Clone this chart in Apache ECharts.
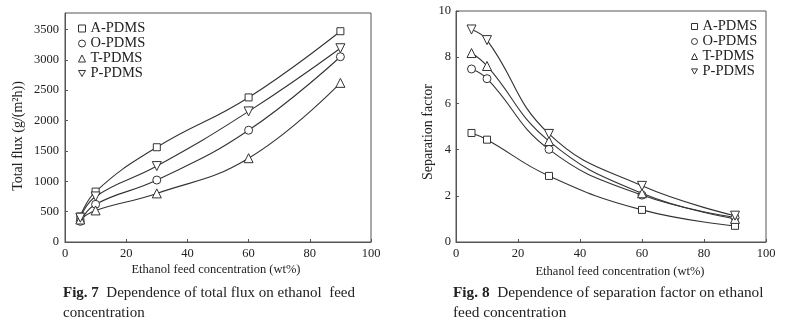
<!DOCTYPE html>
<html>
<head>
<meta charset="utf-8">
<style>
  html, body { margin: 0; padding: 0; background: #fff; }
  #chart { width: 788px; height: 326px; }
</style>
<script src="https://cdn.jsdelivr.net/npm/echarts@6/dist/echarts.min.js"></script>
</head>
<body>
<div id="chart"></div>
<script>
// Ethanol feed concentration (wt%) at which each membrane was tested
const feedConc = [5, 10, 30, 60, 90];
const membranes = ['A-PDMS', 'O-PDMS', 'T-PDMS', 'P-PDMS'];

// Total flux, g/(m2 h)
const fluxA = [420, 830, 1560, 2380, 3470];
const fluxO = [340, 620, 1020, 1840, 3050];
const fluxT = [370, 520, 800, 1380, 2620];
const fluxP = [400, 750, 1250, 2150, 3190];

// Separation factor
const sepA = [4.72, 4.43, 2.86, 1.39, 0.70];
const sepO = [7.49, 7.07, 4.01, 2.03, 1.06];
const sepT = [8.18, 7.62, 4.37, 2.11, 1.00];
const sepP = [9.20, 8.74, 4.68, 2.43, 1.14];

const xTicks = [0, 20, 40, 60, 80, 100];

const SERIF = '"Liberation Serif", "DejaVu Serif", serif';
const INK = '#222';
const LINE = '#333';
const DOWN_TRIANGLE = 'path://M0,0L10,0L5,8.66Z';
const symbols = ['rect', 'circle', 'triangle', DOWN_TRIANGLE];
const symbolSizes = [7, 8, 9, 9];

function pairs(values) {
  return feedConc.map((x, i) => [x, values[i]]);
}

function makeSeries(name, values, idx, gridIdx) {
  return {
    name: name,
    type: 'line',
    xAxisIndex: gridIdx,
    yAxisIndex: gridIdx,
    data: pairs(values),
    smooth: 0.45,
    symbol: symbols[idx],
    symbolSize: symbolSizes[idx],
    showAllSymbol: true,
    lineStyle: { color: LINE, width: 1.1 },
    itemStyle: { color: '#fff', borderColor: LINE, borderWidth: 1 },
    emphasis: { disabled: true },
    z: 3
  };
}

function xAxisFor(gridIdx) {
  return {
    type: 'value',
    gridIndex: gridIdx,
    min: 0,
    max: 100,
    interval: 20,
    axisLine: { show: true, lineStyle: { color: '#555', width: 1 } },
    axisTick: { show: true, inside: true, length: 3, lineStyle: { color: '#555' } },
    axisLabel: { color: INK, fontFamily: SERIF, fontSize: 12.5, margin: 5,
      formatter: v => (xTicks.indexOf(v) >= 0 ? String(v) : '') },
    splitLine: { show: false }
  };
}

function legendFor(left, top, iconSize) {
  return {
    orient: 'vertical',
    left: left,
    top: top,
    padding: 0,
    itemWidth: iconSize,
    itemHeight: iconSize,
    itemGap: 0,
    selectedMode: false,
    textStyle: { color: INK, fontFamily: SERIF, fontSize: 14.5, lineHeight: 13.5 },
    itemStyle: { color: '#fff', borderColor: LINE, borderWidth: 1 },
    data: membranes.map((n, i) => ({ name: n, icon: symbols[i] }))
  };
}

const chart = echarts.init(document.getElementById('chart'), null, { renderer: 'canvas' });

chart.setOption({
  animation: false,
  backgroundColor: '#fff',
  grid: [
    { left: 65, top: 13, width: 306, height: 229, show: true, borderColor: '#555', borderWidth: 1 },
    { left: 456, top: 11, width: 310, height: 231, show: true, borderColor: '#555', borderWidth: 1 }
  ],
  xAxis: [xAxisFor(0), xAxisFor(1)],
  yAxis: [
    {
      type: 'value', gridIndex: 0, min: 0, max: 3770, interval: 500,
      axisLine: { show: true, lineStyle: { color: '#555', width: 1 } },
      axisTick: { show: true, inside: true, length: 3, lineStyle: { color: '#555' } },
      axisLabel: { color: INK, fontFamily: SERIF, fontSize: 12.5, margin: 6, showMaxLabel: false,
        formatter: v => String(v) },
      splitLine: { show: false }
    },
    {
      type: 'value', gridIndex: 1, min: 0, max: 10, interval: 2,
      axisLine: { show: true, lineStyle: { color: '#555', width: 1 } },
      axisTick: { show: true, inside: true, length: 3, lineStyle: { color: '#555' } },
      axisLabel: { color: INK, fontFamily: SERIF, fontSize: 12.5, margin: 5,
        formatter: v => String(v) },
      splitLine: { show: false }
    }
  ],
  legend: [legendFor(78, 21, 7), legendFor(691, 19, 6)],
  series: [
    makeSeries('A-PDMS', fluxA, 0, 0),
    makeSeries('O-PDMS', fluxO, 1, 0),
    makeSeries('T-PDMS', fluxT, 2, 0),
    makeSeries('P-PDMS', fluxP, 3, 0),
    makeSeries('A-PDMS', sepA, 0, 1),
    makeSeries('O-PDMS', sepO, 1, 1),
    makeSeries('T-PDMS', sepT, 2, 1),
    makeSeries('P-PDMS', sepP, 3, 1)
  ],
  title: [
    {
      text: '{b|Fig. 7}  Dependence of total flux on ethanol  feed\nconcentration',
      left: 63, top: 283, padding: 0,
      textStyle: { color: INK, fontFamily: SERIF, fontSize: 15, fontWeight: 'normal', lineHeight: 20,
        rich: { b: { fontFamily: SERIF, fontSize: 15, fontWeight: 'bold', color: INK, lineHeight: 20 } } }
    },
    {
      text: '{b|Fig. 8}  Dependence of separation factor on ethanol\nfeed concentration',
      left: 453, top: 283, padding: 0,
      textStyle: { color: INK, fontFamily: SERIF, fontSize: 15.3, fontWeight: 'normal', lineHeight: 20,
        rich: { b: { fontFamily: SERIF, fontSize: 15.3, fontWeight: 'bold', color: INK, lineHeight: 20 } } }
    }
  ],
  graphic: [
    { type: 'text', x: 18, y: 136, rotation: Math.PI / 2,
      style: { text: 'Total flux (g/(m\u00B2h))', fill: INK, font: '14px ' + SERIF, align: 'center', verticalAlign: 'middle' } },
    { type: 'text', x: 428, y: 132, rotation: Math.PI / 2,
      style: { text: 'Separation factor', fill: INK, font: '14px ' + SERIF, align: 'center', verticalAlign: 'middle' } },
    { type: 'text', x: 216, y: 270,
      style: { text: 'Ethanol feed concentration (wt%)', fill: INK, font: '12.5px ' + SERIF, align: 'center', verticalAlign: 'middle' } },
    { type: 'text', x: 620, y: 272,
      style: { text: 'Ethanol feed concentration (wt%)', fill: INK, font: '12.5px ' + SERIF, align: 'center', verticalAlign: 'middle' } }
  ]
});
</script>
</body>
</html>
